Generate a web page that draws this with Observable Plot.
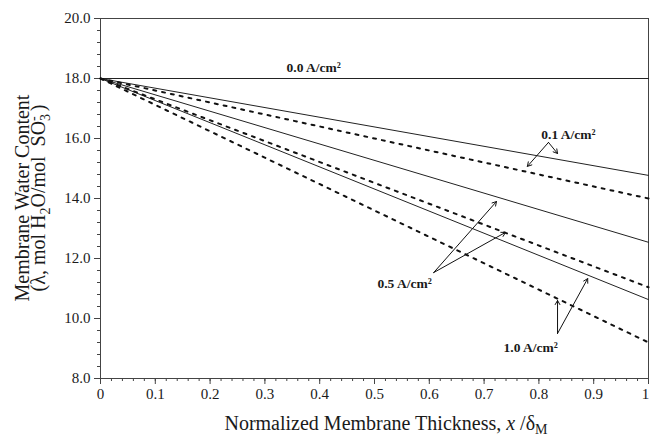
<!DOCTYPE html>
<html><head><meta charset="utf-8">
<script src="https://cdn.jsdelivr.net/npm/d3@7"></script>
<script src="https://cdn.jsdelivr.net/npm/@observablehq/plot@0.6"></script>
<style>
body{margin:0;background:#fff;}
#chart svg, #chart svg text{font-family:"Liberation Serif","Times New Roman",serif;}
</style>
</head><body><div id="chart"></div>
<script>
// x positions (normalized membrane thickness) at which values were read
const xPos = [0, 1];
// solid curves
const solidSeries = ["0.0", "0.1", "0.5", "1.0"];
const solidValues = [[18.0, 18.0], [18.0, 14.77], [18.0, 12.54], [18.0, 10.63]];
// dashed curves
const dashedSeries = ["0.1", "0.5", "1.0"];
const dashedValues = [[18.0, 14.0], [18.0, 11.04], [18.0, 9.2]];
// annotation labels
const labelText = ["0.0 A/cm²", "0.1 A/cm²", "0.5 A/cm²", "1.0 A/cm²"];
const labelX = [0.389, 0.854, 0.555, 0.785];
const labelY = [18.35, 16.13, 11.17, 9.03];
// annotation arrows
const arrowX1 = [0.8175, 0.8175, 0.608, 0.608, 0.834, 0.834];
const arrowY1 = [15.87, 15.87, 11.53, 11.53, 9.5, 9.5];
const arrowX2 = [0.779, 0.834, 0.7226, 0.739, 0.834, 0.889];
const arrowY2 = [15.07, 15.5, 13.9, 12.87, 10.6, 11.33];
// ticks
const xTicks = [0, 0.1, 0.2, 0.3, 0.4, 0.5, 0.6, 0.7, 0.8, 0.9, 1];
const xTickLabels = ["0", "0.1", "0.2", "0.3", "0.4", "0.5", "0.6", "0.7", "0.8", "0.9", "1"];
const yTicks = [8, 10, 12, 14, 16, 18, 20];
const yTickLabels = ["8.0", "10.0", "12.0", "14.0", "16.0", "18.0", "20.0"];
const xMinor = d3.range(0, 51).map(i => i / 50);
const yMinor = d3.range(0, 31).map(i => 8 + i * 0.4);

const solidRows = solidSeries.flatMap((s, i) => xPos.map((x, j) => ({s, x, y: solidValues[i][j]})));
const dashedRows = dashedSeries.flatMap((s, i) => xPos.map((x, j) => ({s, x, y: dashedValues[i][j]})));
const labels = labelText.map((t, i) => ({t, x: labelX[i], y: labelY[i]}));
const arrows = arrowX1.map((_, i) => ({x1: arrowX1[i], y1: arrowY1[i], x2: arrowX2[i], y2: arrowY2[i]}));

const ink = "#1a1a1a";
const serif = "Liberation Serif, Times New Roman, serif";
const chart = Plot.plot({
  width: 650, height: 438,
  marginLeft: 100, marginRight: 2, marginTop: 18, marginBottom: 60,
  style: {fontFamily: serif, fontSize: "15px", color: ink, background: "#fff", overflow: "visible"},
  x: {domain: [0, 1]},
  y: {domain: [8, 20]},
  marks: [
    Plot.frame({stroke: "#444", strokeWidth: 1}),
    Plot.axisX(xMinor, {tickSize: 3, tickFormat: () => "", label: null, stroke: "#444"}),
    Plot.axisX(xTicks, {tickSize: 6, tickPadding: 4, tickFormat: d => xTickLabels[xTicks.indexOf(d)], label: null, stroke: "#444", fontSize: 15}),
    Plot.axisY(yMinor, {tickSize: 3, tickFormat: () => "", label: null, stroke: "#444"}),
    Plot.axisY(yTicks, {tickSize: 6, tickPadding: 4, tickFormat: d => yTickLabels[yTicks.indexOf(d)], label: null, stroke: "#444", fontSize: 15}),
    Plot.line(solidRows, {x: "x", y: "y", z: "s", stroke: "#222", strokeWidth: 1}),
    Plot.line(dashedRows, {x: "x", y: "y", z: "s", stroke: "#111", strokeWidth: 2, strokeDasharray: "3,6"}),
    Plot.arrow(arrows, {x1: "x1", y1: "y1", x2: "x2", y2: "y2", stroke: "#111", strokeWidth: 1, headLength: 7}),
    Plot.text(labels, {x: "x", y: "y", text: "t", fontWeight: "bold", fontSize: 13.5, fill: ink})
  ]
});
document.getElementById("chart").appendChild(chart);

const svg = d3.select(chart);
svg.selectAll("text").attr("font-family", serif);
// keep the last x tick label ("1") inside the picture
svg.selectAll("text").filter(function() { return this.textContent === "1"; }).attr("dx", -3);

// axis titles with sub/superscripts
const xt = svg.append("text").attr("x", 386).attr("y", 430).attr("text-anchor", "middle")
  .attr("font-size", 20).attr("fill", ink).attr("font-family", serif);
xt.append("tspan").text("Normalized Membrane Thickness, ");
xt.append("tspan").attr("font-style", "italic").text("x");
xt.append("tspan").text(" /δ");
xt.append("tspan").attr("font-size", 14).attr("dy", 4).text("M");

svg.append("text").attr("transform", "translate(29,198) rotate(-90)")
  .attr("text-anchor", "middle").attr("font-size", 20).attr("fill", ink).attr("font-family", serif)
  .text("Membrane Water Content");
const y2 = svg.append("text").attr("transform", "translate(45,198) rotate(-90)")
  .attr("text-anchor", "middle").attr("font-size", 20).attr("fill", ink).attr("font-family", serif);
y2.append("tspan").text("(λ, mol H");
y2.append("tspan").attr("font-size", 14).attr("dy", 5).text("2");
y2.append("tspan").attr("dy", -5).text("O/mol  SO");
y2.append("tspan").attr("font-size", 14).attr("dy", 5).text("3");
y2.append("tspan").attr("font-size", 14).attr("dx", -7).attr("dy", -12).text("-");
y2.append("tspan").attr("dy", 7).text(" )");
</script>
</body></html>
